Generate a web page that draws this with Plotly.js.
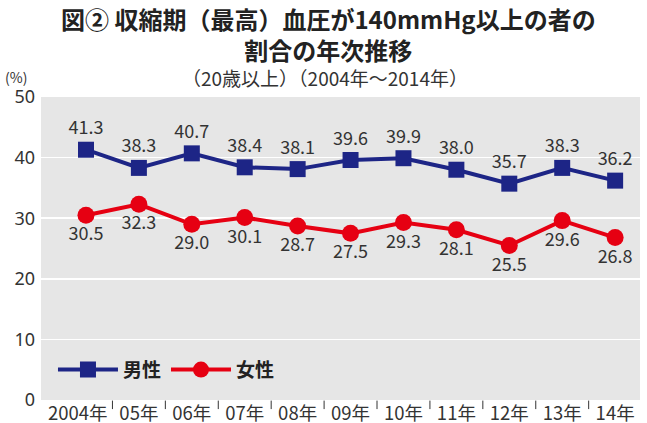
<!DOCTYPE html>
<html><head><meta charset="utf-8">
<script src="https://cdn.plot.ly/plotly-3.0.1.min.js"></script>
<style>body{margin:0;background:#fff}#c{width:647px;height:423px}</style>
</head><body><div id="c"></div>
<script>
const categories = ["2004年","05年","06年","07年","08年","09年","10年","11年","12年","13年","14年"];
const male = [41.3,38.3,40.7,38.4,38.1,39.6,39.9,38.0,35.7,38.3,36.2];
const female = [30.5,32.3,29.0,30.1,28.7,27.5,29.3,28.1,25.5,29.6,26.8];
const yTicks = [0,10,20,30,40,50];

const F = '"Noto Sans CJK JP", "Noto Sans", sans-serif';
const idx = categories.map((c,i)=>i);
const sep = idx.slice(0,-1).map(i=>i+0.5);

const traces = [
  {x: idx, y: male, name: '男性', type:'scatter', mode:'lines+markers+text',
   line:{color:'#1d2586', width:4}, marker:{symbol:'square', size:16, color:'#1d2586'},
   text: male.map(v=>v.toFixed(1)), textposition:'top center',
   textfont:{family:F, size:18, color:'#333'}},
  {x: idx, y: female, name: '女性', type:'scatter', mode:'lines+markers+text',
   line:{color:'#e60012', width:4}, marker:{symbol:'circle', size:17, color:'#e60012'},
   text: female.map(v=>v.toFixed(1)), textposition:'bottom center',
   textfont:{family:F, size:18, color:'#333'}}
];

const shapes = sep.map(s=>({type:'line', xref:'x', yref:'paper', x0:s, x1:s, y0:-0.002, y1:-0.03,
  line:{color:'#333', width:1}}));

const layout = {
  width:647, height:423,
  margin:{l:41, r:7, t:97, b:23},
  paper_bgcolor:'#fff', plot_bgcolor:'#e6e6e6',
  font:{family:F, color:'#333'},
  showlegend:true,
  legend:{orientation:'h', x:0.02, y:0.1, xanchor:'left', yanchor:'middle',
    bgcolor:'rgba(0,0,0,0)', font:{family:F, size:19, color:'#222', weight:'bold'},
    itemwidth:60, traceorder:'normal'},
  xaxis:{tickmode:'array', tickvals:idx, ticktext:categories.map((c,i)=>i===0?c+'\u00a0\u00a0\u00a0\u00a0':c), range:[-0.85,10.47],
    tickangle:0, showgrid:false, zeroline:false, ticks:'', tickfont:{family:F, size:18.5, color:'#333'}, fixedrange:true},
  yaxis:{range:[0,50], tickmode:'array', tickvals:yTicks, showgrid:true, gridcolor:'#fff', gridwidth:1.5,
    zeroline:false, ticks:'', tickfont:{family:'"Noto Sans", sans-serif', size:18, color:'#333'}, ticklabelstandoff:5},
  shapes: shapes,
  annotations:[
    {text:'<b>図② 収縮期（最高）血圧が140mmHg以上の者の<br>割合の年次推移</b>', xref:'paper', yref:'paper',
     x:0.5, xshift:-12, y:1, yshift:98, xanchor:'center', yanchor:'top', showarrow:false, align:'center',
     font:{family:F, size:24, color:'#222'}},
    {text:'（20歳以上）（2004年～2014年）', xref:'paper', yref:'paper', x:0.5, xshift:-16, y:1, yshift:35,
     xanchor:'center', yanchor:'top', showarrow:false, font:{family:F, size:19, color:'#333'}},
    {text:'(%)', xref:'paper', yref:'paper', x:0, xshift:-38, y:1, yshift:32,
     xanchor:'left', yanchor:'top', showarrow:false, font:{family:F, size:14, color:'#333'}}
  ]
};
Plotly.newPlot('c', traces, layout, {displayModeBar:false, staticPlot:true});
</script></body></html>
